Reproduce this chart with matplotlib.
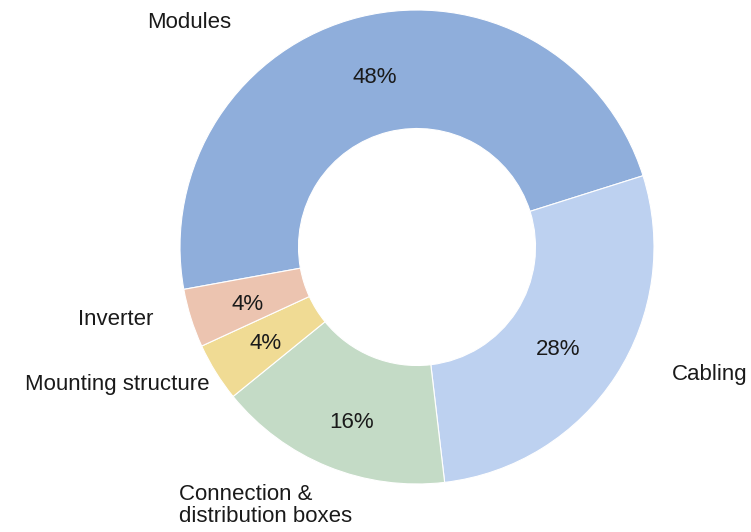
import matplotlib.pyplot as plt

labels = ['Modules', 'Cabling', 'Connection &\ndistribution boxes', 'Mounting structure', 'Inverter']
shares = [48, 28, 16, 4, 4]
colors = ['#8FAEDB', '#BDD1F0', '#C4DBC6', '#F0DB94', '#ECC4B0']
# where each category name / percent sits (data units, ring radius = 1)
label_pos = [(-0.962, 0.958), (1.236, -0.527), (-0.637, -1.091), (-1.266, -0.570), (-1.270, -0.295)]
pct_pos = [(-0.179, 0.726), (0.595, -0.424), (-0.274, -0.730), (-0.637, -0.395), (-0.713, -0.234)]

plt.rcParams['font.family'] = ['Liberation Sans', 'DejaVu Sans']

fig = plt.figure(figsize=(7.51, 5.32), dpi=100)
ax = fig.add_axes([0, 0, 1, 1])

wedges, texts = ax.pie(
    shares, colors=colors, startangle=190.3, counterclock=False, radius=1.0,
    wedgeprops=dict(width=0.5, edgecolor='white', linewidth=0.8))

for share, (x, y) in zip(shares, pct_pos):
    ax.text(x, y, f'{share}%', fontsize=16, color='#1a1a1a', ha='center', va='center_baseline')

for name, (x, y) in zip(labels, label_pos):
    va = 'center' if '\n' in name else 'center_baseline'
    ax.text(x, y, name, fontsize=16, color='#1a1a1a', ha='center', va=va,
            multialignment='left', linespacing=1.05)

ax.set_aspect('equal')
ax.set_xlim(-417 / 237, (751 - 417) / 237)
ax.set_ylim(-(532 - 247) / 237, 247 / 237)
ax.axis('off')

fig.savefig('out.png', dpi=100)
